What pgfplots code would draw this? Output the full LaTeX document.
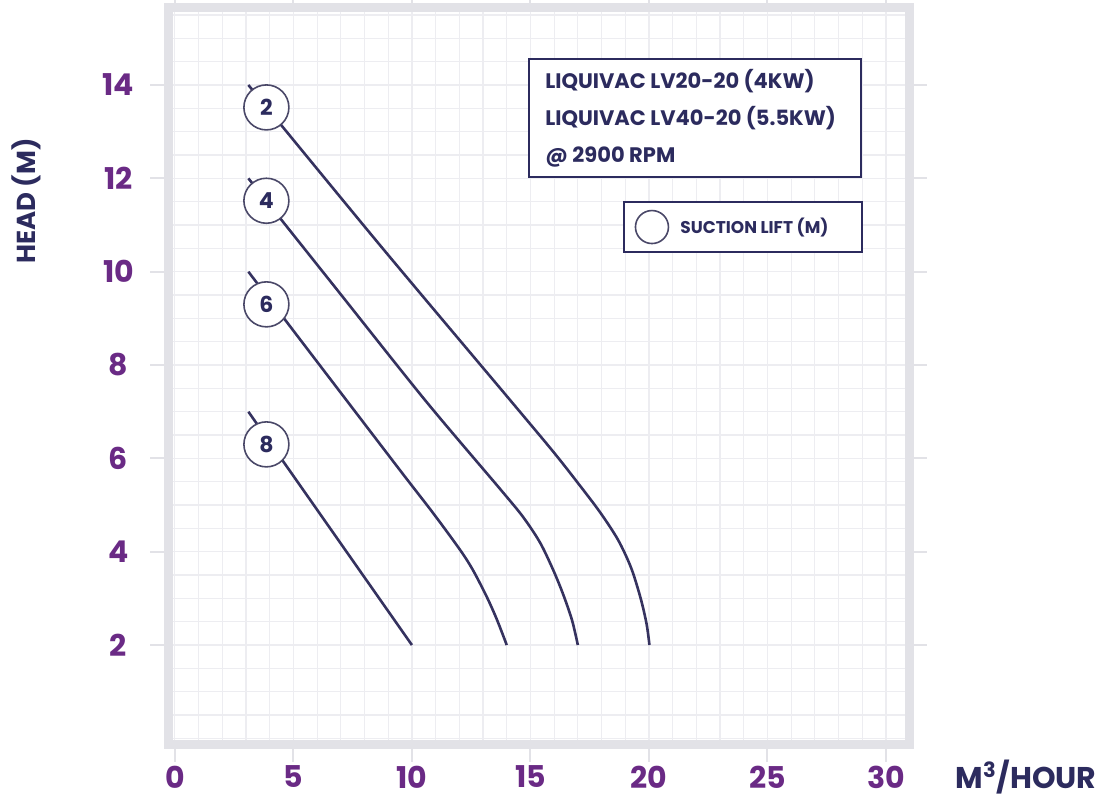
\documentclass[border=0pt]{standalone}
\usepackage{pgfplots}
\pgfplotsset{compat=1.18}
\usepackage{fontspec}
\setmainfont{Poppins}
\definecolor{navy}{HTML}{2C2B5E}
\definecolor{curve}{HTML}{35325F}
\definecolor{circgray}{HTML}{4A4868}
\definecolor{tickpurple}{HTML}{6A2A85}
\definecolor{framegray}{HTML}{E2E2E7}
\definecolor{gridgray}{HTML}{EDEDF1}
\begin{document}
\begin{tikzpicture}
\begin{axis}[
  scale only axis, width=370.25pt, height=368pt,
  xmin=-0.27, xmax=30.97, ymin=-0.12, ymax=15.65,
  xtick={0,5,...,30}, ytick={2,4,...,14},
  minor xtick={0,1,...,31}, minor ytick={0,0.5,...,15.5},
  grid=minor,
  minor grid style={gridgray, line width=0.6pt},
  axis line style={framegray, line width=4.5pt},
  tick align=outside, major tick length=9pt, minor tick length=0pt,
  tick style={framegray, line width=1pt},
  /pgf/number format/assume math mode=true,
  ticklabel style={font=\fontsize{15}{16}\selectfont\bfseries, text=tickpurple},
  yticklabel style={anchor=center, xshift=-16pt},
  xticklabel style={anchor=center, yshift=-7.5pt},
  xlabel={M\textsuperscript{3}/HOUR},
  xlabel style={at={(rel axis cs:1.158,-0.0448)}, anchor=center,
    font=\fontsize{15}{16}\selectfont\bfseries, text=navy},
  ylabel={HEAD (M)},
  ylabel style={at={(rel axis cs:-0.1924,0.7378)}, anchor=center,
    font=\fontsize{13}{14}\selectfont\bfseries, text=navy},
]
% suction lift 2 m
\addplot[curve, line width=1.3pt, smooth, tension=0.5] coordinates {
  (3.1,14.0) (8.6,10.6) (14.14,7.25) (15.95,6.15) (16.96,5.5) (17.93,4.85)
  (18.7,4.25) (19.25,3.65) (19.65,3.0) (19.9,2.45) (20.02,2)
};
% suction lift 4 m
\addplot[curve, line width=1.3pt, smooth, tension=0.5] coordinates {
  (3.1,12.0) (6.8,9.64) (10.55,7.25) (13.71,5.35) (14.68,4.75) (15.4,4.2)
  (15.95,3.62) (16.37,3.1) (16.75,2.54) (17,2)
};
% suction lift 6 m
\addplot[curve, line width=1.3pt, smooth, tension=0.5] coordinates {
  (3.1,10.0) (6.3,7.87) (9.49,5.75) (10.89,4.83) (12.03,4.04) (12.57,3.61)
  (13.16,3.03) (13.59,2.54) (14,2)
};
% suction lift 8 m
\addplot[curve, line width=1.3pt] coordinates {
  (3.1,7.0) (10,2)
};

\tikzset{lift/.style={circle, draw=circgray, fill=white, line width=0.8pt,
  minimum size=22.5pt, inner sep=0pt, text=navy,
  font=\fontsize{11}{12}\selectfont\bfseries}}
\node[lift] at (axis cs:3.86,13.52) {2};
\node[lift] at (axis cs:3.86,11.52) {4};
\node[lift] at (axis cs:3.86,9.3) {6};
\node[lift] at (axis cs:3.86,6.3) {8};

\draw[navy, line width=1pt, fill=white] (rel axis cs:0.4868,0.9307) rectangle (rel axis cs:0.9352,0.7704);
\node[anchor=west, align=left, text=navy, inner sep=0pt,
  font=\fontsize{10.5}{18.5}\selectfont\bfseries] at (rel axis cs:0.5084,0.8505)
  {LIQUIVAC LV20-20 (4KW)\\LIQUIVAC LV40-20 (5.5KW)\\@ 2900 RPM};

\draw[navy, line width=1pt, fill=white] (rel axis cs:0.6151,0.7364) rectangle (rel axis cs:0.9365,0.6685);
\node[circle, draw=circgray, line width=0.8pt, minimum size=16.5pt, inner sep=0pt]
  at (rel axis cs:0.6529,0.7024) {};
\node[anchor=west, text=navy, inner sep=0pt,
  font=\fontsize{8.5}{10}\selectfont\bfseries] at (rel axis cs:0.6908,0.7024) {SUCTION LIFT (M)};

\coordinate (A) at (rel axis cs:0,0);
\coordinate (B) at (rel axis cs:1,1);
\end{axis}
\pgfresetboundingbox
\path[use as bounding box] ([xshift=-84.25pt,yshift=-27.5pt]A) rectangle ([xshift=95pt,yshift=4pt]B);
\end{tikzpicture}
\end{document}
